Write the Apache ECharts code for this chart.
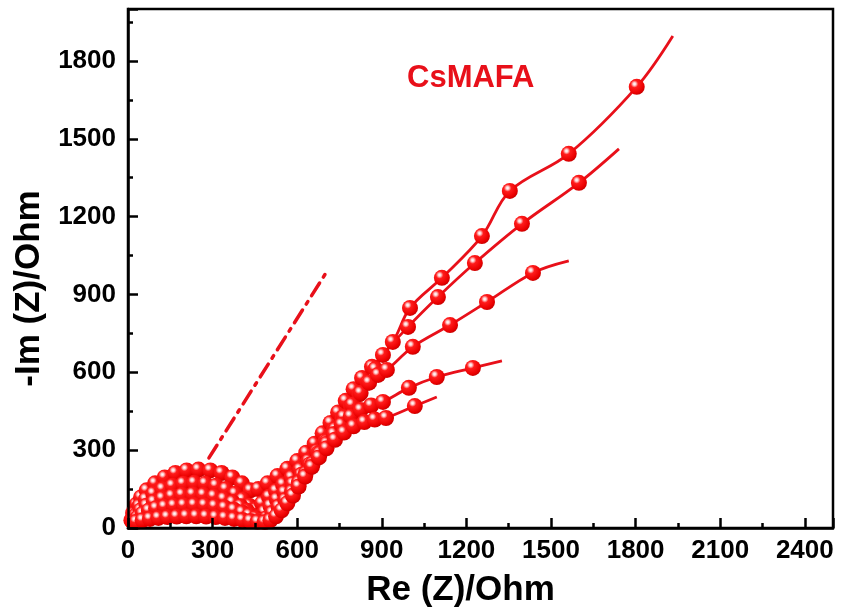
<!DOCTYPE html>
<html>
<head>
<meta charset="utf-8">
<script src="https://cdn.jsdelivr.net/npm/echarts@6/dist/echarts.min.js"></script>
<style>
html,body{margin:0;padding:0;background:#fff;}
#chart{width:843px;height:615px;}
</style>
</head>
<body>
<div id="chart"></div>
<script>
// ---- data (Re Z, -Im Z) in Ohm ----
const xTickLabels = [0, 300, 600, 900, 1200, 1500, 1800, 2100, 2400];
const yTickLabels = [0, 300, 600, 900, 1200, 1500, 1800];
const sampleLabel = 'CsMAFA';

const series1 = [
  [12,30],[18,58],[30,90],[46,118],[66,145],[96,172],[130,195],[168,212],[208,222],[250,225],
  [292,222],[332,212],[370,195],[404,172],[434,145],
  [462,150],[495,172],[530,200],[565,228],[600,258],[632,290],[662,325],[690,365],
  [718,405],[745,445],[772,490],[800,535],[830,578],[865,621],[939,717],[1000,848],
  [1113,964],[1255,1125],[1354,1299],[1563,1442],[1804,1700]
];
const series1End = [1932,1896];

const series2 = [
  [14,28],[24,55],[40,84],[63,110],[90,132],[123,150],[158,163],[196,171],[235,174],
  [274,171],[312,163],[347,150],[380,132],[407,110],[430,86],[452,70],
  [475,95],[500,120],[525,143],[550,168],[580,195],[610,225],[640,258],[670,295],
  [700,335],[730,378],[760,423],[790,470],[820,515],[850,560],[877,612],[904,667],
  [993,775],[1099,890],[1230,1021],[1397,1172],[1599,1330]
];
const series2End = [1741,1461];

const series3 = [
  [16,27],[28,48],[45,68],[66,86],[92,101],[122,114],[156,123],[192,128],[230,130],
  [268,128],[305,122],[340,112],[371,99],[399,84],[422,66],[442,48],[462,38],
  [485,62],[505,85],[528,110],[555,137],[585,170],[615,205],[645,245],[675,288],
  [705,333],[735,380],[765,428],[795,475],[825,520],[855,560],[887,590],[918,609],
  [1010,698],[1142,782],[1273,871],[1436,983]
];
const series3End = [1563,1029];

const series4 = [
  [20,25],[34,40],[52,55],[74,67],[100,76],[130,82],[163,86],[198,88],[235,89],
  [272,88],[308,84],[343,78],[376,70],[405,60],[430,49],[452,38],[472,28],
  [492,38],[512,58],[534,82],[558,108],[582,140],[606,175],[630,210],[655,248],
  [680,287],[705,325],[730,362],[758,398],[790,430],[825,455],[862,472],[904,486],
  [996,540],[1095,582],[1223,617]
];
const series4End = [1326,644];

const series5 = [
  [30,24],[52,30],[78,35],[108,39],[140,42],[173,44],[207,45],[242,45],
  [277,44],[311,42],[344,39],[376,35],[406,31],[434,27],[460,24],[485,23],
  [505,30],[525,45],[545,68],[565,95],[585,125],[605,160],[628,198],[652,236],
  [677,272],[704,307],[734,340],[766,368],[800,392],[838,408],[875,418],[915,424],[1017,470]
];
const series5End = [1095,505];

const guideLine = [[287,270],[709,995]];

// ---- styling ----
const RED = '#e8101a';
const sphere = {
  type: 'radial', x: 0.36, y: 0.32, r: 0.72,
  colorStops: [
    {offset: 0, color: '#ffffff'},
    {offset: 0.12, color: '#ffd6d6'},
    {offset: 0.32, color: '#ff1c1c'},
    {offset: 0.8, color: '#ea0000'},
    {offset: 1, color: '#c40000'}
  ]
};
const FONT = 'Liberation Sans, Arial, sans-serif';

function mkSeries(pts, endPt) {
  const data = pts.map(p => ({value: p}));
  data.push({value: endPt, symbol: 'none'});
  return {
    type: 'line',
    data: data,
    smooth: 0.35,
    symbol: 'circle',
    symbolSize: 16,
    showAllSymbol: true,
    clip: false,
    lineStyle: {color: RED, width: 2.8},
    itemStyle: {color: sphere, borderWidth: 0},
    emphasis: {disabled: true},
    z: 3
  };
}

const allSeries = [series1, series2, series3, series4, series5];
const allEnds = [series1End, series2End, series3End, series4End, series5End];

const chart = echarts.init(document.getElementById('chart'), null, {renderer: 'canvas'});
const option = {
  animation: false,
  backgroundColor: '#fff',
  grid: {left: 128, right: 10, top: 9, bottom: 87, show: true, borderColor: '#000', borderWidth: 2.5, backgroundColor: 'transparent'},
  xAxis: [
    {
      type: 'value', min: 0, max: 2500, interval: 300, position: 'bottom', z: 10,
      name: 'Re (Z)/Ohm', nameLocation: 'middle', nameGap: 45,
      nameTextStyle: {fontFamily: FONT, fontWeight: 'bold', fontSize: 35, color: '#000', padding: [0, 40, 0, 0]},
      axisLine: {show: true, onZero: false, lineStyle: {color: '#000', width: 2.5}},
      axisTick: {show: true, inside: true, length: 10, lineStyle: {color: '#000', width: 2.5}},
      axisLabel: {
        margin: 10, fontFamily: FONT, fontWeight: 'bold', fontSize: 26, color: '#000',
        formatter: v => xTickLabels.includes(v) ? String(v) : ''
      },
      splitLine: {show: false}
    },
    {
      type: 'value', min: 0, max: 2500, interval: 150, position: 'bottom', offset: 0, z: 10,
      axisLine: {show: false},
      axisTick: {show: true, inside: true, length: 5, lineStyle: {color: '#000', width: 2.5}},
      axisLabel: {show: false},
      splitLine: {show: false}
    }
  ],
  yAxis: [
    {
      type: 'value', min: 0, max: 2000, interval: 300, position: 'left', z: 10,
      name: '-Im (Z)/Ohm', nameLocation: 'middle', nameGap: 79, nameRotate: 90,
      nameTextStyle: {fontFamily: FONT, fontWeight: 'bold', fontSize: 35, color: '#000', padding: [0, 40, 0, 0]},
      axisLine: {show: true, onZero: false, lineStyle: {color: '#000', width: 2.5}},
      axisTick: {show: true, inside: true, length: 10, lineStyle: {color: '#000', width: 2.5}},
      axisLabel: {
        margin: 12, fontFamily: FONT, fontWeight: 'bold', fontSize: 26, color: '#000',
        formatter: v => yTickLabels.includes(v) ? String(v) : ''
      },
      splitLine: {show: false}
    },
    {
      type: 'value', min: 0, max: 2000, interval: 150, position: 'left', offset: 0, z: 10,
      axisLine: {show: false},
      axisTick: {show: true, inside: true, length: 5, lineStyle: {color: '#000', width: 2.5}},
      axisLabel: {show: false},
      splitLine: {show: false}
    }
  ],
  graphic: [
    {type: 'text', left: 407, top: 63, style: {text: sampleLabel, fill: RED, font: 'bold 31px ' + FONT}}
  ],
  series: allSeries.map((s, i) => mkSeries(s, allEnds[i])).concat([{
    type: 'line',
    data: guideLine,
    symbol: 'none',
    lineStyle: {color: RED, width: 3.5, type: [15, 7, 3, 7], cap: 'round'},
    emphasis: {disabled: true},
    z: 3
  }])
};
chart.setOption(option);
</script>
</body>
</html>
